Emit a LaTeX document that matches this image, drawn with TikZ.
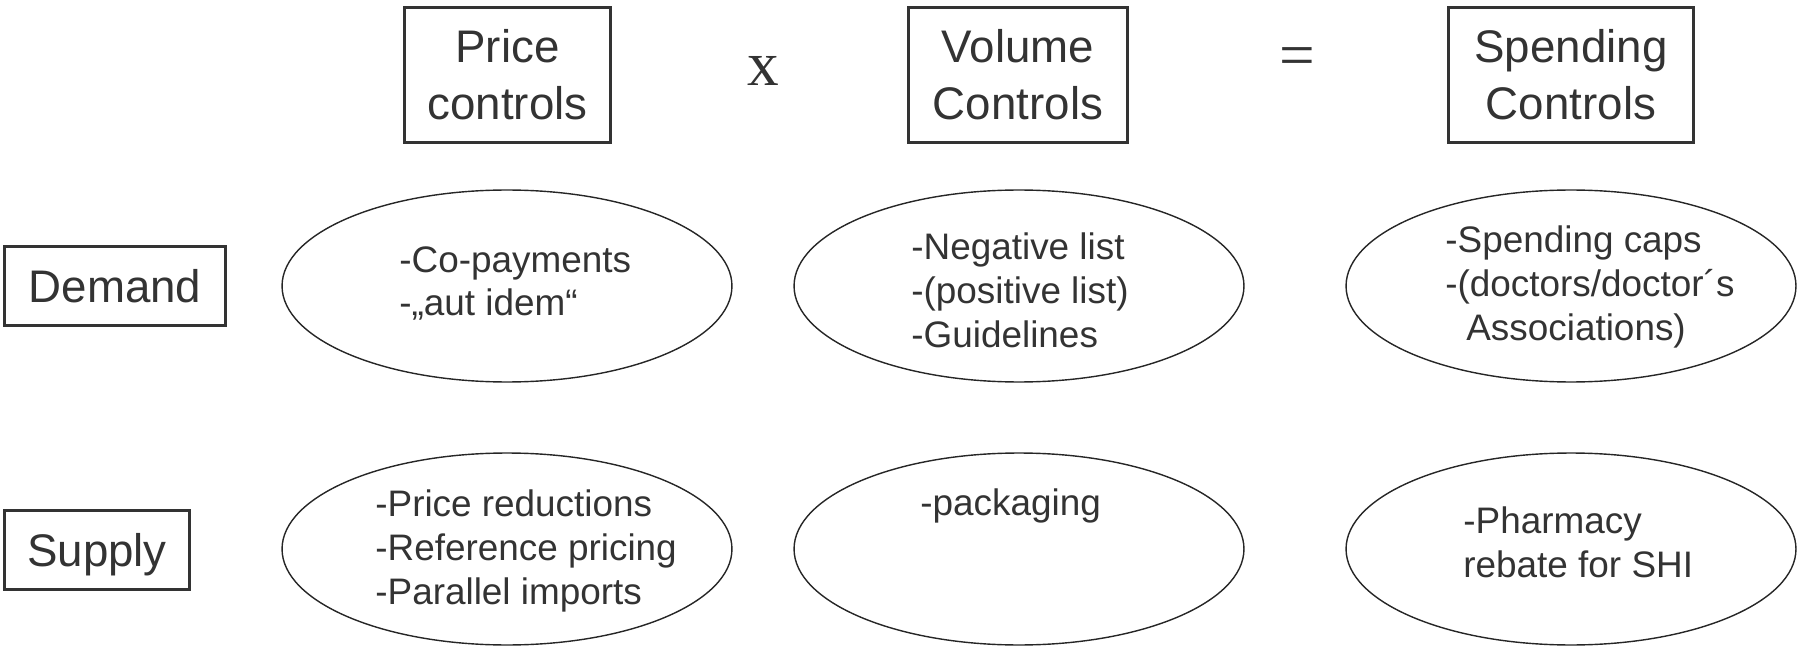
\documentclass[tikz,border=0pt]{standalone}
\usepackage{fontspec}
\setmainfont{Liberation Sans}
\newfontfamily\opfont{Liberation Serif}
\usepackage{xcolor}
\usetikzlibrary{shapes.geometric}

\definecolor{ink}{HTML}{333333}

\tikzset{
	head/.style={draw=ink, line width=1.5pt, inner sep=0pt, align=center, text=ink, font=\fontsize{26}{32.5}\selectfont},
	oval/.style={draw=black!85, line width=0.8pt, ellipse, inner sep=0pt, minimum width=9cm, minimum height=3.84cm},
	item/.style={anchor=base west, align=left, inner sep=0pt, text=ink, font=\fontsize{21}{25}\selectfont},
	op/.style={inner sep=0pt, text=ink, font=\opfont\fontsize{36}{36}\selectfont}
}

\begin{document}
\begin{tikzpicture}[x=0.02cm, y=-0.02cm]
		\useasboundingbox (0,0) rectangle (1797,648);
		\def\rowA{286};
		\def\rowB{549};
		
		% column heads
		\node [head, minimum width=4.12cm, minimum height=2.7cm] (price) at (507.5,75) {Price\\controls};
		\node [op] (times) at (763,71) {x};
		\node [head, minimum width=4.38cm, minimum height=2.7cm] (volume) at (1018,75) {Volume\\Controls};
		\node [op] (equals) at (1297,62) {=};
		\node [head, minimum width=4.9cm, minimum height=2.7cm] (spending) at (1571,75) {Spending\\Controls};
		
		% row heads
		\node [head, minimum width=4.42cm, minimum height=1.58cm] (demand) at (115,\rowA) {Demand};
		\node [head, minimum width=3.7cm, minimum height=1.58cm, text depth=0pt] (supply) at (97,550) {Supply};
		
		% ovals
		\node [oval] (dprice) at (507,\rowA) {};
		\node [oval] (dvolume) at (1019,\rowA) {};
		\node [oval] (dspending) at (1571,\rowA) {};
		\node [oval] (sprice) at (507,\rowB) {};
		\node [oval] (svolume) at (1019,\rowB) {};
		\node [oval] (sspending) at (1571,\rowB) {};
		
		% what goes in them (placed by the last baseline)
		\node [item] (dpricetext) at (399,316) {-Co-payments\\-„aut idem“};
		\node [item] (dvolumetext) at (911,347) {-Negative list\\-(positive list)\\-Guidelines};
		\node [item] (dspendingtext) at (1445,340) {-Spending caps\\-(doctors/doctor´s\\\hspace*{0.42cm}Associations)};
		\node [item] (spricetext) at (375,604) {-Price reductions\\-Reference pricing\\-Parallel imports};
		\node [item] (svolumetext) at (920,515) {-packaging};
		\node [item] (sspendingtext) at (1463,577) {-Pharmacy\\rebate for SHI};
	\end{tikzpicture}
\end{document}
